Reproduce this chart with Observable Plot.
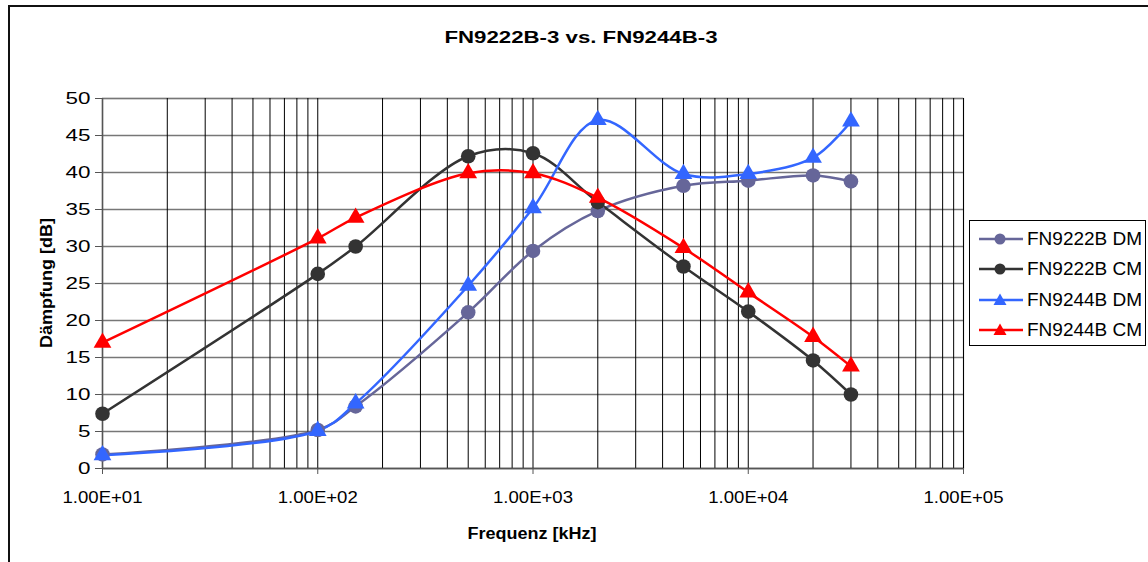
<!DOCTYPE html>
<html>
<head>
<meta charset="utf-8">
<script src="https://cdn.jsdelivr.net/npm/d3@7"></script>
<script src="https://cdn.jsdelivr.net/npm/@observablehq/plot@0.6"></script>
<style>
  html, body { margin: 0; padding: 0; background: #fff; overflow: hidden; }
  #wrap { position: relative; width: 1148px; height: 562px; font-family: "Liberation Sans", Arial, sans-serif; }
  #frame { position: absolute; left: 8px; top: 5px; width: 1200px; height: 620px; border: 2px solid #111; box-sizing: border-box; pointer-events: none; }
  #chart { position: absolute; left: 0; top: 0; }
  #overlay { position: absolute; left: 0; top: 0; pointer-events: none; }
  #legend { position: absolute; left: 969px; top: 220px; width: 177px; height: 126px; border: 1px solid #000; box-sizing: border-box; background: #fff; }
  .entry { position: absolute; left: 8px; height: 22px; display: flex; align-items: center; font-size: 19px; color: #000; white-space: nowrap; }
  .entry svg { margin-right: 3px; }
</style>
</head>
<body>
<div id="wrap">
  <div id="chart"></div>
  <div id="frame"></div>
  <svg id="overlay" width="1148" height="562" font-family="'Liberation Sans', Arial, sans-serif" font-weight="bold" fill="#000">
    <text id="title" x="581" y="43" text-anchor="middle" font-size="17">FN9222B-3 vs. FN9244B-3</text>
    <text id="xlabel" x="532" y="539" text-anchor="middle" font-size="16">Frequenz [kHz]</text>
    <text id="ylabel" transform="translate(52,283) rotate(-90)" text-anchor="middle" font-size="16">Dämpfung [dB]</text>
  </svg>
  <div id="legend"></div>
</div>
<script>
// ---- data ----
const frequencies = [10, 100, 150, 500, 1000, 2000, 5000, 10000, 20000, 30000];
const fn9222bDM = [1.9, 5.2, 8.4, 21.1, 29.4, 34.8, 38.2, 38.9, 39.6, 38.8];
const fn9222bCM = [7.4, 26.3, 30.0, 42.2, 42.6, 36.0, 27.3, 21.2, 14.6, 10.0];
const fn9244bDM = [1.8, 5.1, 8.8, 24.7, 35.2, 47.1, 39.8, 39.8, 42.0, 46.9];
const fn9244bCM = [17.0, 31.1, 33.9, 39.9, 39.9, 36.6, 29.8, 23.8, 17.8, 13.8];
const seriesNames = ["FN9222B DM", "FN9222B CM", "FN9244B DM", "FN9244B CM"];
const seriesColors = ["#666699", "#333333", "#3366FF", "#FF0000"];
const seriesSymbols = ["circle", "circle", "triangle", "triangle"];
const yTicks = [0, 5, 10, 15, 20, 25, 30, 35, 40, 45, 50];
const xTicks = [10, 100, 1000, 10000, 100000];
const xTickLabels = ["1.00E+01", "1.00E+02", "1.00E+03", "1.00E+04", "1.00E+05"];

const seriesValues = [fn9222bDM, fn9222bCM, fn9244bDM, fn9244bCM];
const rows = [];
seriesNames.forEach((name, si) => {
  frequencies.forEach((f, i) => rows.push({series: name, f, v: seriesValues[si][i]}));
});

// grid positions (1..9 × each decade)
const minorGrid = [];
for (let k = 1; k <= 4; k++) for (let m = 1; m <= 9; m++) minorGrid.push(m * Math.pow(10, k));
minorGrid.push(100000);

const marks = [
  Plot.frame({stroke: "#c8c8c8", strokeWidth: 1.5}),
  Plot.gridY(yTicks, {stroke: "#777", strokeOpacity: 1, strokeWidth: 1.3}),
  Plot.gridX(minorGrid, {stroke: "#000", strokeOpacity: 1, strokeWidth: 1}),
  Plot.ruleX([10], {stroke: "#555", strokeWidth: 1.5}),
  Plot.ruleY([0], {stroke: "#555", strokeWidth: 1.5}),
  Plot.axisY({ticks: yTicks, tickSize: 7, tickPadding: 5, fontSize: 16, label: null, stroke: "#555", className: "yax"}),
  Plot.axisX({ticks: xTicks, tickFormat: (d) => xTickLabels[xTicks.indexOf(d)], tickSize: 6, tickPadding: 17, fontSize: 16, label: null, stroke: "#555", className: "xax"})
];
seriesNames.forEach((name, si) => {
  const data = rows.filter(r => r.series === name);
  marks.push(Plot.line(data, {x: "f", y: "v", stroke: seriesColors[si], strokeWidth: 2.5, curve: "catmull-rom"}));
});
seriesNames.forEach((name, si) => {
  const data = rows.filter(r => r.series === name);
  marks.push(Plot.dot(data, {x: "f", y: "v", fill: seriesColors[si], stroke: "none", symbol: seriesSymbols[si], r: seriesSymbols[si] === "circle" ? 7.3 : 6.6}));
});

const chart = Plot.plot({
  width: 1148,
  height: 562,
  marginLeft: 102,
  marginRight: 185,
  marginTop: 98,
  marginBottom: 94,
  style: {fontFamily: "'Liberation Sans', Arial, sans-serif", color: "#000", background: "transparent"},
  x: {type: "log", domain: [10, 100000]},
  y: {domain: [0, 50]},
  marks
});
document.getElementById("chart").appendChild(chart);

// horizontal stretch of the text, as in the reference rendering
function stretch(el, factor, target) {
  const w = el.getComputedTextLength();
  el.setAttribute("textLength", target != null ? target : w * factor);
  el.setAttribute("lengthAdjust", "spacingAndGlyphs");
}
chart.querySelectorAll("g[aria-label='y-axis tick label'] text").forEach(t => stretch(t, 1.4));
chart.querySelectorAll("g[aria-label='x-axis tick label'] text").forEach(t => stretch(t, 1.0, 80));
stretch(document.getElementById("title"), 1, 273);
stretch(document.getElementById("xlabel"), 1, 129);
stretch(document.getElementById("ylabel"), 1, 130);

// legend
const legend = document.getElementById("legend");
seriesNames.forEach((name, si) => {
  const div = document.createElement("div");
  div.className = "entry";
  div.style.top = (7 + si * 30.3) + "px";
  const sym = seriesSymbols[si] === "circle"
    ? `<circle cx="22" cy="11" r="5.5" fill="${seriesColors[si]}"/>`
    : `<path d="M22,4.5 L28.5,16 L15.5,16 Z" fill="${seriesColors[si]}"/>`;
  div.innerHTML = `<svg width="46" height="22"><line x1="1" x2="45" y1="11" y2="11" stroke="${seriesColors[si]}" stroke-width="2.5"/>${sym}</svg><span>${name}</span>`;
  legend.appendChild(div);
});
</script>
</body>
</html>
